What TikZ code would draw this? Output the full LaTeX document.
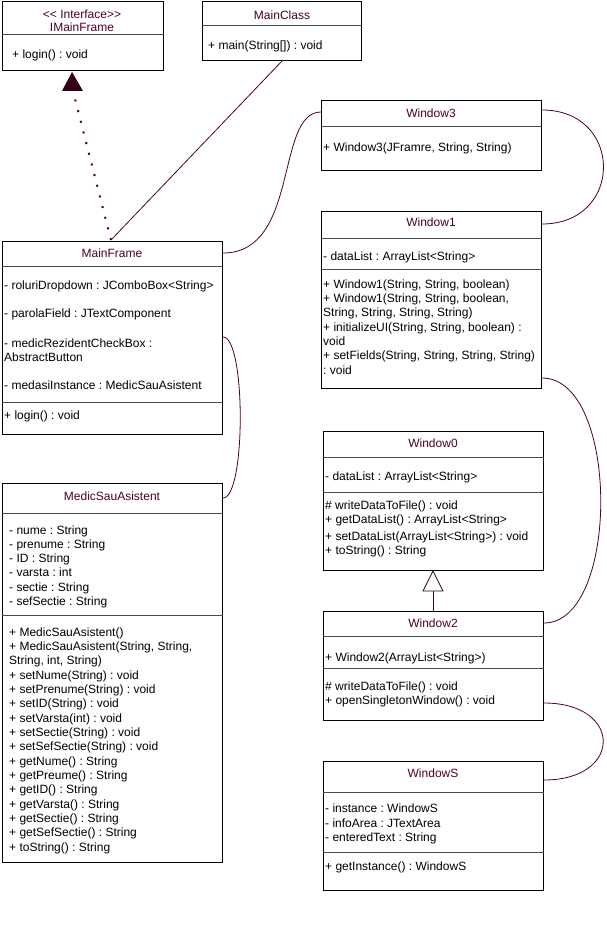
\documentclass[tikz,border=0pt]{standalone}
\usepackage{fontspec}
\setmainfont{Liberation Sans}
\frenchspacing
\definecolor{ttl}{HTML}{4C0027}
\definecolor{con}{HTML}{4C0027}
\definecolor{tri}{HTML}{33001A}
\begin{document}
\begin{tikzpicture}[x=1pt,y=-1pt,
  box/.style={draw=black, line width=1pt, anchor=north west, inner sep=0pt, fill=white},
  sep/.style={draw=black!70, line width=1pt},
  txt/.style={anchor=west, inner sep=0pt, text height=8.6pt, text depth=0pt, font=\fontsize{12}{14.4}\selectfont\frenchspacing},
  ttlstyle/.style={anchor=center, inner sep=0pt, text height=8.6pt, text depth=0pt, text=ttl, font=\fontsize{12}{14.4}\selectfont\frenchspacing},
  con/.style={draw=con, line width=0.8pt}
]
\useasboundingbox (0,0) rectangle (606,941);

% ---------- IMainFrame ----------
\node[box, minimum width=161pt, minimum height=69pt] (imf) at (2,1) {};
\node[ttlstyle] (imf-s) at (82,14) {<{}< Interface>{}>};
\node[ttlstyle] (imf-t) at (82,27) {IMainFrame};
\draw[sep] (imf.west |- 0,35) -- (imf.east |- 0,35);
\node[txt] (imf-m) at (12,54) {+ login() : void};

% ---------- MainClass ----------
\node[box, minimum width=159pt, minimum height=59pt] (mc) at (202,1) {};
\node[ttlstyle] (mc-t) at (282,15) {MainClass};
\draw[sep] (mc.west |- 0,26) -- (mc.east |- 0,26);
\node[txt] (mc-m) at (208,45) {+ main(String[]) : void};

% ---------- MainFrame ----------
\node[box, minimum width=220pt, minimum height=193pt] (mf) at (2,241) {};
\node[ttlstyle] (mf-t) at (112,253) {MainFrame};
\draw[sep] (mf.west |- 0,266) -- (mf.east |- 0,266);
\node[txt] (mf-a1) at (4,285) {- roluriDropdown : JComboBox<String>};
\node[txt] (mf-a2) at (4,313) {- parolaField : JTextComponent};
\node[txt] (mf-a3) at (4,343) {- medicRezidentCheckBox :};
\node[txt] (mf-a4) at (4,357) {AbstractButton};
\node[txt] (mf-a5) at (4,385) {- medasiInstance : MedicSauAsistent};
\draw[sep] (mf.west |- 0,402) -- (mf.east |- 0,402);
\node[txt] (mf-m1) at (4,415) {+ login() : void};

% ---------- MedicSauAsistent ----------
\node[box, minimum width=220pt, minimum height=379pt] (msa) at (2,483) {};
\node[ttlstyle] (msa-t) at (112,496) {MedicSauAsistent};
\draw[sep] (msa.west |- 0,513) -- (msa.east |- 0,513);
\foreach \s [count=\i from 0] in {- nume : String, - prenume : String, - ID : String, - varsta : int, - sectie : String, - sefSectie : String}
  \node[txt] (msa-a\i) at (9,530+14.2*\i) {\s};
\draw[sep] (msa.west |- 0,615) -- (msa.east |- 0,615);
\foreach \s [count=\i from 0] in {+ MedicSauAsistent(), {+ MedicSauAsistent(String, String,}, {String, int, String)}, + setNume(String) : void, + setPrenume(String) : void, + setID(String) : void, + setVarsta(int) : void, + setSectie(String) : void, + setSefSectie(String) : void, + getNume() : String, + getPreume() : String, + getID() : String, + getVarsta() : String, + getSectie() : String, + getSefSectie() : String, + toString() : String}
  \node[txt] (msa-m\i) at (9,632+14.33*\i) {\s};

% ---------- Window3 ----------
\node[box, minimum width=220pt, minimum height=70pt] (w3) at (321,100) {};
\node[ttlstyle] (w3-t) at (431,113) {Window3};
\draw[sep] (w3.west |- 0,127) -- (w3.east |- 0,127);
\node[txt] (w3-m) at (323,147) {+ Window3(JFramre, String, String)};

% ---------- Window1 ----------
\node[box, minimum width=220pt, minimum height=177pt] (w1) at (321,211) {};
\node[ttlstyle] (w1-t) at (431,222) {Window1};
\draw[sep] (w1.west |- 0,238) -- (w1.east |- 0,238);
\node[txt] (w1-a) at (323,256) {- dataList : ArrayList<String>};
\draw[sep] (w1.west |- 0,269) -- (w1.east |- 0,269);
\foreach \s [count=\i from 0] in {{+ Window1(String, String, boolean)}, {+ Window1(String, String, boolean,}, {String, String, String, String)}, {+ initializeUI(String, String, boolean) :}, void, {+ setFields(String, String, String, String)}, : void}
  \node[txt] (w1-m\i) at (323,284+14.3*\i) {\s};

% ---------- Window0 ----------
\node[box, minimum width=220pt, minimum height=139pt] (w0) at (323,431) {};
\node[ttlstyle] (w0-t) at (433,443) {Window0};
\draw[sep] (w0.west |- 0,457) -- (w0.east |- 0,457);
\node[txt] (w0-a) at (325,476) {- dataList : ArrayList<String>};
\draw[sep] (w0.west |- 0,492) -- (w0.east |- 0,492);
\node[txt] (w0-m1) at (325,505) {\# writeDataToFile() : void};
\node[txt] (w0-m2) at (325,519) {+ getDataList() : ArrayList<String>};
\node[txt] (w0-m3) at (325,536) {+ setDataList(ArrayList<String>) : void};
\node[txt] (w0-m4) at (325,550) {+ toString() : String};

% ---------- Window2 ----------
\node[box, minimum width=220pt, minimum height=109pt] (w2) at (323,611) {};
\node[ttlstyle] (w2-t) at (433,623) {Window2};
\draw[sep] (w2.west |- 0,636) -- (w2.east |- 0,636);
\node[txt] (w2-a) at (325,657) {+ Window2(ArrayList<String>)};
\draw[sep] (w2.west |- 0,668) -- (w2.east |- 0,668);
\node[txt] (w2-m1) at (325,686) {\# writeDataToFile() : void};
\node[txt] (w2-m2) at (325,700) {+ openSingletonWindow() : void};

% ---------- WindowS ----------
\node[box, minimum width=220pt, minimum height=129pt] (ws) at (323,761) {};
\node[ttlstyle] (ws-t) at (433,773) {WindowS};
\draw[sep] (ws.west |- 0,792) -- (ws.east |- 0,792);
\node[txt] (ws-a1) at (325,808) {- instance : WindowS};
\node[txt] (ws-a2) at (325,823) {- infoArea : JTextArea};
\node[txt] (ws-a3) at (325,837) {- enteredText : String};
\draw[sep] (ws.west |- 0,852) -- (ws.east |- 0,852);
\node[txt] (ws-m) at (325,866) {+ getInstance() : WindowS};

% ---------- realization: MainFrame -> IMainFrame ----------
\coordinate (realTip) at (72,72);
\coordinate (realBase) at (73,91);
\coordinate (mfTop) at (111,240);
\fill[tri] (realTip) -- (62,91) -- (83,91) -- cycle;
\draw[con, line width=2pt, dash pattern=on 2pt off 9pt] (mfTop) -- (realBase);

% ---------- MainClass -> MainFrame ----------
\coordinate (mcBot) at (283,60);
\draw[con] (mcBot) -- (mfTop);

% ---------- inheritance Window2 -> Window0 ----------
\coordinate (genTip) at (433,571);
\coordinate (genBase) at (433,591);
\draw[con] (w2.north -| genBase) -- (genBase);
\draw[draw=tri, fill=white, line width=0.8pt] (genTip) -- (423,591) -- (443,591) -- cycle;

% ---------- curved associations ----------
\draw[con] (mf.east |- 0,253) .. controls (300,253) and (275,112) .. (w3.west |- 0,112);
\draw[con] (w3.east |- 0,110) .. controls (624,110) and (624,224) .. (w1.east |- 0,224);
\draw[con] (w1.east |- 0,378) .. controls (620,378) and (620,623) .. (w2.east |- 0,623);
\draw[con] (w2.east |- 0,703) .. controls (623,703) and (623,780) .. (ws.east |- 0,780);
\draw[con] (mf.east |- 0,337) .. controls (246,337) and (246,498) .. (msa.east |- 0,498);
\end{tikzpicture}
\end{document}
